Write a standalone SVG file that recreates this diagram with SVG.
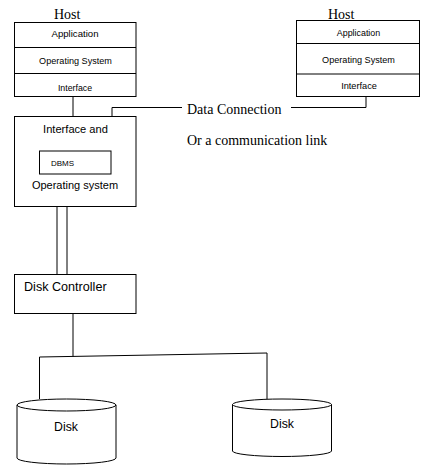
<svg xmlns="http://www.w3.org/2000/svg" width="427" height="467" viewBox="0 0 427 467">
<style>
.b{fill:#fff;stroke:#000;stroke-width:1}
.l{fill:none;stroke:#000;stroke-width:1}
.s{font-family:"Liberation Sans",Arial,sans-serif;fill:#000}
.t{font-family:"Liberation Serif","Times New Roman",serif;font-size:14px;fill:#000}
</style>
<rect width="427" height="467" fill="#fff"/>
<g id="connectors">
<line class="l" x1="73" y1="96.5" x2="73" y2="116.5"/>
<polyline class="l" points="112,116.5 112,107.5 182,107.5"/>
<polyline class="l" points="291,107.5 366,107.5 366,96.5"/>
<line class="l" x1="57" y1="206.5" x2="57" y2="274.5"/>
<line class="l" x1="67" y1="206.5" x2="67" y2="274.5"/>
<line class="l" x1="73" y1="313.5" x2="73" y2="356.5"/>
<polyline class="l" points="39.5,399 39.5,357 267,353 267,399"/>
</g>
<g id="host1">
<text class="t" x="54" y="19">Host</text>
<rect class="b" x="14.5" y="22.5" width="121.5" height="74"/>
<line class="l" x1="14.5" y1="47.5" x2="136" y2="47.5"/>
<line class="l" x1="14.5" y1="73.5" x2="136" y2="73.5"/>
<text class="s" x="75" y="36.5" font-size="9.6" text-anchor="middle">Application</text>
<text class="s" x="75.5" y="64" font-size="9.1" text-anchor="middle">Operating System</text>
<text class="s" x="75" y="91" font-size="8.8" text-anchor="middle">Interface</text>
</g>
<g id="host2">
<text class="t" x="328" y="19">Host</text>
<rect class="b" x="296.5" y="20.5" width="123" height="76"/>
<line class="l" x1="296.5" y1="43.5" x2="419.5" y2="43.5"/>
<line class="l" x1="296.5" y1="74" x2="419.5" y2="74"/>
<text class="s" x="358.5" y="35.5" font-size="8.9" text-anchor="middle">Application</text>
<text class="s" x="358.5" y="63" font-size="9.1" text-anchor="middle">Operating System</text>
<text class="s" x="359" y="89" font-size="9.2" text-anchor="middle">Interface</text>
</g>
<g id="link-label">
<text class="t" x="187" y="114">Data Connection</text>
<text class="t" x="187" y="145">Or a communication link</text>
</g>
<g id="interface-os">
<rect class="b" x="14.5" y="116.5" width="121.5" height="90"/>
<text class="s" x="75.5" y="133" font-size="11.1" text-anchor="middle">Interface and</text>
<rect class="b" x="39.5" y="151" width="71.5" height="23"/>
<text class="s" x="51" y="165.5" font-size="8">DBMS</text>
<text class="s" x="75" y="189" font-size="11" text-anchor="middle">Operating system</text>
</g>
<g id="disk-controller">
<rect class="b" x="14.5" y="274.5" width="121.5" height="39"/>
<text class="s" x="24" y="291" font-size="12.6">Disk Controller</text>
</g>
<g id="disk1">
<path class="b" d="M17,405 A49.5,6 0 0 1 116,405 V458 A49.5,6 0 0 1 17,458 Z"/>
<path class="l" d="M17,405 A49.5,6 0 0 0 116,405"/>
<text class="s" x="66" y="431" font-size="12.3" text-anchor="middle">Disk</text>
</g>
<g id="disk2">
<path class="b" d="M232.5,404.5 A49.5,5.5 0 0 1 331.5,404.5 V451 A49.5,5.5 0 0 1 232.5,451 Z"/>
<path class="l" d="M232.5,404.5 A49.5,5.5 0 0 0 331.5,404.5"/>
<text class="s" x="282" y="427.5" font-size="12.3" text-anchor="middle">Disk</text>
</g>
</svg>
